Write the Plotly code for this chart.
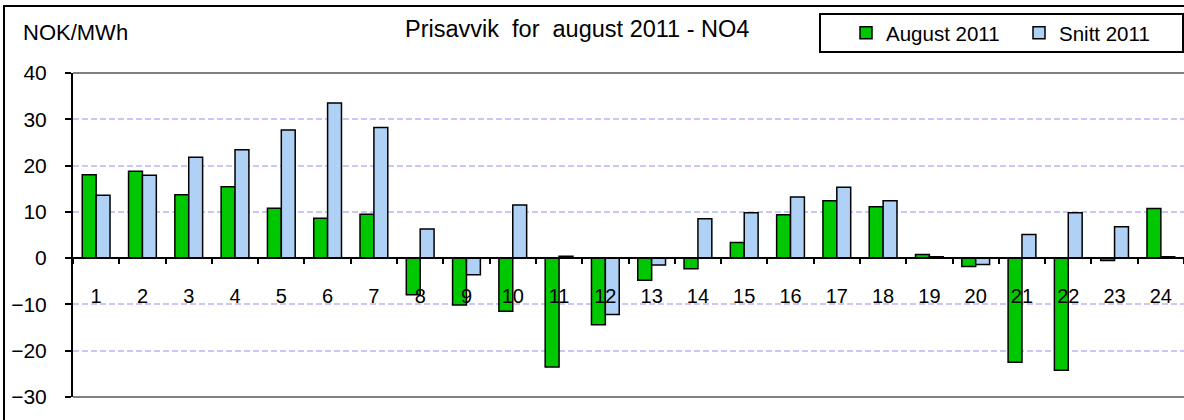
import plotly.graph_objects as go

categories = [str(i) for i in range(1, 25)]
august_2011 = [18.0, 18.8, 13.7, 15.4, 10.8, 8.6, 9.5, -7.9, -10.1, -11.5, -23.5, -14.4,
               -4.8, -2.3, 3.4, 9.4, 12.4, 11.1, 0.8, -1.8, -22.5, -24.2, -0.5, 10.7]
snitt_2011 = [13.6, 17.9, 21.8, 23.4, 27.7, 33.5, 28.2, 6.3, -3.6, 11.5, 0.4, -12.2,
              -1.5, 8.5, 9.8, 13.2, 15.3, 12.4, 0.3, -1.4, 5.1, 9.8, 6.8, 0.3]
y_ticks = [-30, -20, -10, 0, 10, 20, 30, 40]

W, H = 1184, 420
L, R, T, B = 73, 0, 73, 23
PW, PH = W - L - R, H - T - B

def px_x(px):
    return (px - L) / PW

def px_y(py):
    return (H - B - py) / PH

FONT = "Liberation Sans, Arial, sans-serif"

fig = go.Figure()
fig.add_trace(go.Bar(x=categories, y=august_2011, name="August 2011",
                     marker=dict(color="#00c800", line=dict(color="black", width=1.5))))
fig.add_trace(go.Bar(x=categories, y=snitt_2011, name="Snitt 2011",
                     marker=dict(color="#aed1f5", line=dict(color="black", width=1.5))))

ymin, ymax = y_ticks[0], y_ticks[-1]
zero_pos = (0 - ymin) / (ymax - ymin)

fig.update_layout(
    width=W, height=H,
    margin=dict(l=L, r=R, t=T, b=B, pad=0, autoexpand=False),
    paper_bgcolor="white", plot_bgcolor="white",
    font=dict(family=FONT, size=20, color="black"),
    barmode="group", bargap=0.4, bargroupgap=0,
    showlegend=True,
    legend=dict(orientation="h", x=px_x(846), xanchor="left", y=px_y(33), yanchor="middle",
                bgcolor="rgba(0,0,0,0)", borderwidth=0, font=dict(size=20.5),
                entrywidth=128, entrywidthmode="pixels"),
    xaxis=dict(type="category", anchor="free", position=zero_pos,
               showline=True, linecolor="black", linewidth=2,
               ticks="outside", ticklen=5, tickwidth=2, tickcolor="black",
               tickson="boundaries", ticklabelstandoff=20,
               showgrid=False, tickfont=dict(size=20)),
    yaxis=dict(range=[ymin, ymax], tickvals=y_ticks, showline=True, linecolor="black",
               linewidth=2, ticks="outside", ticklen=6, tickwidth=2, tickcolor="black",
               ticklabelstandoff=14,
               showgrid=True, gridcolor="#c8c8f8", gridwidth=1.5, griddash="6px,3px",
               zeroline=False, tickfont=dict(size=21)),
)

shapes = [
    dict(type="line", xref="paper", yref="paper", x0=0, x1=1, y0=1, y1=1,
         line=dict(color="#808080", width=2)),
    dict(type="line", xref="paper", yref="paper", x0=0, x1=1, y0=0, y1=0,
         line=dict(color="#808080", width=2)),
    dict(type="rect", xref="paper", yref="paper", x0=px_x(4), x1=px_x(1190),
         y0=px_y(430), y1=px_y(6), line=dict(color="black", width=2)),
    dict(type="rect", xref="paper", yref="paper", x0=px_x(820), x1=px_x(1183),
         y0=px_y(52), y1=px_y(14), line=dict(color="black", width=2)),
]
fig.update_layout(shapes=shapes)

fig.add_annotation(text="Prisavvik  for  august 2011 - NO4", xref="paper", yref="paper",
                   x=px_x(577), y=px_y(29), xanchor="center", yanchor="middle",
                   showarrow=False, font=dict(size=23.5))
fig.add_annotation(text="NOK/MWh", xref="paper", yref="paper",
                   x=px_x(21), y=px_y(33), xanchor="left", yanchor="middle",
                   showarrow=False, font=dict(size=22))

fig.write_html("out.html", config={"displayModeBar": False},
               post_script="document.body.style.margin='0';document.body.style.overflow='hidden';")
